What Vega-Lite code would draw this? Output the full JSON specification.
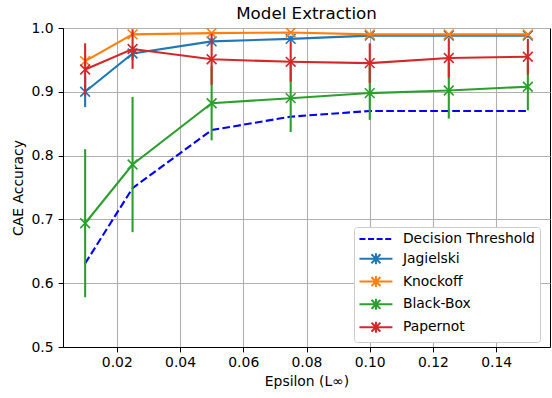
{
  "$schema": "https://vega.github.io/schema/vega-lite/v6.json",
  "autosize": {"type": "none"},
  "padding": {"left": 63, "top": 28, "right": 2, "bottom": 51},
  "width": 487,
  "height": 319,
  "background": "white",
  "title": {"text": "Model Extraction", "fontSize": 16.7, "fontWeight": "normal", "font": "DejaVu Sans", "color": "black", "offset": -2},
  "config": {
    "view": {"stroke": "black", "strokeWidth": 1},
    "axis": {
      "labelFont": "DejaVu Sans", "labelFontSize": 13.9, "labelColor": "black",
      "titleFont": "DejaVu Sans", "titleFontSize": 13.9, "titleFontWeight": "normal", "titleColor": "black",
      "domainColor": "black", "tickColor": "black", "tickSize": 4.9, "tickWidth": 1,
      "gridColor": "#b0b0b0", "gridWidth": 1.1, "gridOpacity": 1
    },
    "legend": {"labelFont": "DejaVu Sans", "labelFontSize": 13.9, "labelColor": "black"}
  },
  "data": {"values": [
    {"s": "Decision Threshold", "x": 0.01, "y": 0.631},
    {"s": "Decision Threshold", "x": 0.025, "y": 0.749},
    {"s": "Decision Threshold", "x": 0.05, "y": 0.840},
    {"s": "Decision Threshold", "x": 0.075, "y": 0.861},
    {"s": "Decision Threshold", "x": 0.1, "y": 0.870},
    {"s": "Decision Threshold", "x": 0.125, "y": 0.870},
    {"s": "Decision Threshold", "x": 0.15, "y": 0.870},
    {"s": "Jagielski", "x": 0.01, "y": 0.900, "lo": 0.876, "hi": 0.924},
    {"s": "Jagielski", "x": 0.025, "y": 0.960, "lo": 0.950, "hi": 0.970},
    {"s": "Jagielski", "x": 0.05, "y": 0.979, "lo": 0.974, "hi": 0.984},
    {"s": "Jagielski", "x": 0.075, "y": 0.983, "lo": 0.978, "hi": 0.988},
    {"s": "Jagielski", "x": 0.1, "y": 0.988, "lo": 0.985, "hi": 0.991},
    {"s": "Jagielski", "x": 0.125, "y": 0.988, "lo": 0.985, "hi": 0.991},
    {"s": "Jagielski", "x": 0.15, "y": 0.988, "lo": 0.985, "hi": 0.991},
    {"s": "Knockoff", "x": 0.01, "y": 0.948, "lo": 0.940, "hi": 0.956},
    {"s": "Knockoff", "x": 0.025, "y": 0.990, "lo": 0.987, "hi": 0.993},
    {"s": "Knockoff", "x": 0.05, "y": 0.992, "lo": 0.990, "hi": 0.994},
    {"s": "Knockoff", "x": 0.075, "y": 0.993, "lo": 0.991, "hi": 0.995},
    {"s": "Knockoff", "x": 0.1, "y": 0.990, "lo": 0.988, "hi": 0.992},
    {"s": "Knockoff", "x": 0.125, "y": 0.990, "lo": 0.988, "hi": 0.992},
    {"s": "Knockoff", "x": 0.15, "y": 0.990, "lo": 0.988, "hi": 0.992},
    {"s": "Black-Box", "x": 0.01, "y": 0.694, "lo": 0.578, "hi": 0.810},
    {"s": "Black-Box", "x": 0.025, "y": 0.786, "lo": 0.680, "hi": 0.892},
    {"s": "Black-Box", "x": 0.05, "y": 0.882, "lo": 0.824, "hi": 0.940},
    {"s": "Black-Box", "x": 0.075, "y": 0.890, "lo": 0.837, "hi": 0.943},
    {"s": "Black-Box", "x": 0.1, "y": 0.898, "lo": 0.856, "hi": 0.940},
    {"s": "Black-Box", "x": 0.125, "y": 0.902, "lo": 0.858, "hi": 0.946},
    {"s": "Black-Box", "x": 0.15, "y": 0.908, "lo": 0.871, "hi": 0.945},
    {"s": "Papernot", "x": 0.01, "y": 0.935, "lo": 0.894, "hi": 0.976},
    {"s": "Papernot", "x": 0.025, "y": 0.967, "lo": 0.936, "hi": 0.998},
    {"s": "Papernot", "x": 0.05, "y": 0.951, "lo": 0.911, "hi": 0.991},
    {"s": "Papernot", "x": 0.075, "y": 0.947, "lo": 0.916, "hi": 0.978},
    {"s": "Papernot", "x": 0.1, "y": 0.945, "lo": 0.914, "hi": 0.976},
    {"s": "Papernot", "x": 0.125, "y": 0.953, "lo": 0.922, "hi": 0.984},
    {"s": "Papernot", "x": 0.15, "y": 0.955, "lo": 0.927, "hi": 0.983}
  ]},
  "encoding": {
    "x": {"field": "x", "type": "quantitative",
      "scale": {"domain": [0.003, 0.157], "nice": false, "zero": false},
      "axis": {"title": "Epsilon (L∞)", "values": [0.02, 0.04, 0.06, 0.08, 0.1, 0.12, 0.14], "format": ".2f", "titlePadding": 5, "labelPadding": 4}},
    "y": {"field": "y", "type": "quantitative",
      "scale": {"domain": [0.5, 1.0], "nice": false, "zero": false},
      "axis": {"title": "CAE Accuracy", "values": [0.5, 0.6, 0.7, 0.8, 0.9, 1.0], "format": ".1f", "titlePadding": 6, "labelPadding": 5}},
    "color": {"field": "s", "type": "nominal",
      "scale": {"domain": ["Decision Threshold", "Jagielski", "Knockoff", "Black-Box", "Papernot"],
                "range": ["#0000ff", "#1f77b4", "#ff7f0e", "#2ca02c", "#d62728"]},
      "legend": {"title": null, "orient": "none", "legendX": 291, "legendY": 199,
        "fillColor": "white", "strokeColor": "#cccccc", "cornerRadius": 3, "padding": 5,
        "symbolSize": 100, "symbolStrokeWidth": 2, "symbolType": "stroke", "rowPadding": 2.8, "labelOffset": 30,
        "encode": {"symbols": {"update": {
          "shape": {"signal": "datum.value === 'Decision Threshold' ? 'M-1.3,0L5.3,0' : 'M-1.3,0L5.3,0M1.1,-0.9L2.9,0.9M1.1,0.9L2.9,-0.9M2,-1.1L2,1.1'"},
          "strokeDash": {"signal": "datum.value === 'Decision Threshold' ? [6, 2.6] : [1, 0]"},
          "fillOpacity": {"value": 0}
        }}}}}
  },
  "layer": [
    {"transform": [{"filter": "datum.s === 'Decision Threshold'"}],
     "mark": {"type": "line", "strokeWidth": 2.1, "strokeDash": [7.7, 3.3], "clip": true}},
    {"transform": [{"filter": "datum.s === 'Jagielski'"}],
     "layer": [
       {"mark": {"type": "line", "strokeWidth": 2.1, "clip": true}},
       {"mark": {"type": "rule", "strokeWidth": 2.1, "clip": true}, "encoding": {"y": {"field": "lo", "type": "quantitative"}, "y2": {"field": "hi"}}},
       {"mark": {"type": "point", "shape": "M-1,-1L1,1M-1,1L1,-1", "size": 95, "strokeWidth": 1.6, "filled": false, "opacity": 1, "clip": true}}
     ]},
    {"transform": [{"filter": "datum.s === 'Knockoff'"}],
     "layer": [
       {"mark": {"type": "line", "strokeWidth": 2.1, "clip": true}},
       {"mark": {"type": "rule", "strokeWidth": 2.1, "clip": true}, "encoding": {"y": {"field": "lo", "type": "quantitative"}, "y2": {"field": "hi"}}},
       {"mark": {"type": "point", "shape": "M-1,-1L1,1M-1,1L1,-1", "size": 95, "strokeWidth": 1.6, "filled": false, "opacity": 1, "clip": true}}
     ]},
    {"transform": [{"filter": "datum.s === 'Black-Box'"}],
     "layer": [
       {"mark": {"type": "line", "strokeWidth": 2.1, "clip": true}},
       {"mark": {"type": "rule", "strokeWidth": 2.1, "clip": true}, "encoding": {"y": {"field": "lo", "type": "quantitative"}, "y2": {"field": "hi"}}},
       {"mark": {"type": "point", "shape": "M-1,-1L1,1M-1,1L1,-1", "size": 95, "strokeWidth": 1.6, "filled": false, "opacity": 1, "clip": true}}
     ]},
    {"transform": [{"filter": "datum.s === 'Papernot'"}],
     "layer": [
       {"mark": {"type": "line", "strokeWidth": 2.1, "clip": true}},
       {"mark": {"type": "rule", "strokeWidth": 2.1, "clip": true}, "encoding": {"y": {"field": "lo", "type": "quantitative"}, "y2": {"field": "hi"}}},
       {"mark": {"type": "point", "shape": "M-1,-1L1,1M-1,1L1,-1", "size": 95, "strokeWidth": 1.6, "filled": false, "opacity": 1, "clip": true}}
     ]}
  ]
}
